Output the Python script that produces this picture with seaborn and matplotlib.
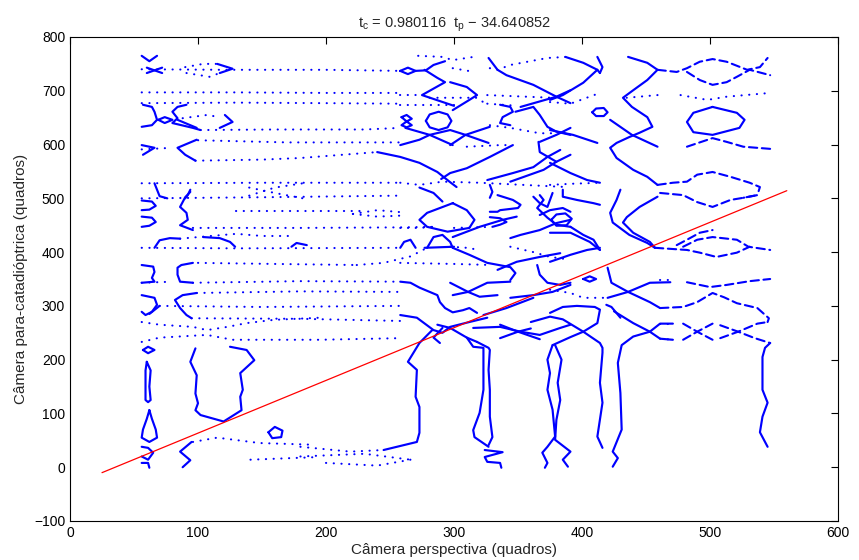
import numpy as np
import pandas as pd
import seaborn as sns
import matplotlib
matplotlib.use("Agg")
import matplotlib.pyplot as plt

# curvas tracadas a partir da figura (x = quadros perspectiva, y = quadros para-catadioptrica)

# regiao esquerda, tracos continuos
left_solid = [
    [(56, 765), (62, 755), (68, 765)],
    [(60, 743), (72, 733)],
    [(60, 733), (72, 743)],
    [(115, 750), (127, 741), (117, 733)],
    [(57, 674), (64, 670), (66, 661), (68, 646), (64, 636), (56, 633)],
    [(91, 674), (84, 670), (80, 661), (84, 649), (80, 640), (96, 631), (102, 627)],
    [(69, 646), (74, 651), (80, 646), (74, 640), (69, 646)],
    [(84, 646), (99, 631)],
    [(117, 631), (127, 642), (121, 655)],
    [(56, 599), (66, 594), (57, 581)],
    [(99, 609), (84, 594), (90, 581), (98, 570)],
    [(66, 528), (68, 516), (70, 504), (76, 500)],
    [(94, 516), (92, 506), (90, 500)],
    [(56, 496), (64, 494), (67, 486), (62, 479), (56, 478)],
    [(56, 466), (64, 464), (67, 456), (62, 449), (56, 447)],
    [(94, 512), (90, 502), (86, 484), (91, 473), (92, 460), (86, 450), (96, 441)],
    [(66, 408), (70, 422), (78, 426), (86, 425)],
    [(104, 428), (117, 426), (125, 419), (129, 410)],
    [(173, 410), (177, 417), (185, 413)],
    [(56, 376), (65, 373), (66, 363), (64, 352), (66, 345), (56, 343)],
    [(96, 380), (87, 376), (84, 371), (84, 358), (86, 345), (96, 343)],
    [(56, 320), (66, 315), (68, 302), (64, 289), (59, 283), (56, 289)],
    [(70, 300), (62, 285)],
    [(99, 324), (88, 320), (82, 311), (86, 296), (91, 283), (95, 277)],
    [(57, 218), (61, 224), (66, 218), (61, 212), (57, 218)],
    [(60, 196), (63, 180), (62, 150), (63, 125), (61, 121), (59, 125), (59, 150), (59, 180), (60, 196)],
    [(62, 106), (64, 90), (67, 70), (68, 55), (62, 47), (56, 55), (57, 70), (60, 90), (62, 106)],
    [(56, 38), (61, 36), (65, 27), (61, 14), (56, 20)],
    [(56, 8), (61, 8), (62, -1)],
    [(98, 221), (94, 196), (99, 171), (98, 137), (100, 119), (98, 106), (102, 97), (120, 85),
     (134, 106), (133, 131), (135, 144), (133, 175), (144, 199), (138, 218), (125, 224)],
    [(155, 65), (160, 75), (166, 68), (165, 56), (158, 54), (155, 65)],
    [(95, 47), (86, 29), (94, 13), (88, 0)],
    [(259, 651), (263, 655), (267, 648), (263, 643), (259, 636), (263, 632), (267, 636), (263, 643), (259, 651)],
]

# regiao esquerda, pontos esparsos
left_dotted = [
    [(90, 744), (104, 750), (115, 750)],
    [(91, 733), (109, 726), (117, 733)],
    [(56, 740), (120, 739), (200, 739), (258, 737)],
    [(56, 697), (130, 697), (200, 696), (258, 696)],
    [(56, 677), (130, 678), (200, 677), (258, 676)],
    [(88, 649), (107, 655), (117, 651)],
    [(102, 627), (160, 628), (230, 628), (258, 631)],
    [(100, 608), (170, 604), (258, 604)],
    [(56, 591), (80, 594)],
    [(98, 570), (150, 572), (180, 575), (240, 586)],
    [(56, 528), (150, 529), (258, 529)],
    [(56, 500), (150, 502), (258, 505)],
    [(140, 505), (160, 520), (182, 528)],
    [(140, 520), (160, 510), (182, 500)],
    [(130, 477), (230, 477)],
    [(221, 471), (240, 478), (260, 474)],
    [(221, 471), (240, 466), (260, 468)],
    [(96, 445), (180, 445), (258, 446), (284, 447)],
    [(86, 425), (110, 430), (130, 434), (150, 430), (175, 430)],
    [(56, 408), (130, 407), (258, 408)],
    [(224, 376), (245, 380), (266, 392), (279, 408)],
    [(100, 380), (160, 378), (224, 376)],
    [(96, 343), (180, 346), (258, 345)],
    [(56, 343), (80, 345)],
    [(99, 324), (180, 327), (258, 326)],
    [(70, 300), (150, 298), (258, 300)],
    [(95, 277), (180, 276), (258, 272)],
    [(56, 270), (70, 265), (96, 261), (107, 255), (123, 261), (138, 268), (159, 274), (195, 278)],
    [(56, 233), (70, 241), (107, 246), (127, 237), (195, 237), (258, 240)],
    [(96, 47), (115, 55), (148, 45), (188, 42)],
    [(141, 14), (195, 19)],
    [(180, 38), (219, 29), (245, 32)],
    [(180, 20), (230, 25), (266, 14)],
    [(200, 8), (240, 3), (266, 14)],
]

# regiao central, tracos continuos
mid_solid = [
    [(270, 737), (278, 738), (284, 748), (293, 755)],
    [(277, 739), (287, 724), (293, 716), (275, 692), (285, 684), (300, 672)],
    [(297, 716), (310, 707), (318, 692), (312, 683), (299, 664)],
    [(258, 737), (264, 743), (270, 737), (264, 731), (258, 737)],
    [(278, 644), (281, 656), (288, 661), (295, 656), (298, 644), (295, 632), (288, 627), (281, 632), (278, 644)],
    [(262, 631), (281, 618), (299, 599)],
    [(258, 599), (273, 609), (281, 618), (297, 627), (309, 618), (327, 603)],
    [(297, 599), (309, 618), (328, 633)],
    [(240, 586), (258, 577), (273, 566), (287, 549), (297, 530), (302, 521)],
    [(290, 536), (297, 547), (310, 556), (328, 577), (346, 599)],
    [(273, 520), (284, 510), (291, 494)],
    [(328, 525), (330, 512), (328, 501)],
    [(299, 491), (279, 473), (273, 460), (279, 447), (295, 438), (312, 445), (316, 460), (310, 478), (299, 491)],
    [(279, 408), (284, 428), (291, 432), (297, 419), (299, 408)],
    [(277, 408), (300, 410)],
    [(258, 408), (261, 419), (266, 423), (270, 408)],
    [(299, 408), (312, 395), (326, 380), (344, 372), (348, 361), (344, 348)],
    [(258, 345), (266, 343), (273, 334), (281, 326), (287, 320), (289, 307), (293, 296), (299, 288),
     (307, 292), (312, 296), (318, 287)],
    [(297, 343), (311, 326), (320, 317), (334, 320)],
    [(299, 320), (311, 326), (326, 343), (344, 345)],
    [(258, 283), (271, 278), (284, 255), (291, 250), (297, 261), (312, 270), (326, 278)],
    [(287, 265), (297, 259), (310, 241), (318, 233)],
    [(291, 259), (284, 241), (289, 231)],
    [(283, 255), (273, 231), (264, 196), (271, 181), (270, 131), (273, 112), (273, 64), (271, 47), (245, 32)],
    [(310, 241), (315, 224), (323, 222), (323, 194), (323, 144), (320, 101), (315, 69), (316, 56), (327, 38)],
    [(318, 233), (327, 222), (328, 218), (327, 181), (328, 144), (328, 94), (330, 56), (327, 41)],
    [(324, 32), (338, 28), (324, 19), (326, 10), (336, 8), (337, -1)],
    [(327, 761), (334, 739), (341, 729), (362, 711), (380, 689), (391, 677)],
    [(352, 670), (380, 689), (391, 701)],
    [(336, 674), (344, 670), (346, 661), (338, 651), (336, 640), (344, 636)],
    [(348, 661), (362, 670), (367, 655), (373, 633), (380, 624), (391, 618)],
    [(367, 605), (380, 618), (391, 631)],
    [(366, 605), (367, 586), (380, 568), (391, 581)],
    [(380, 568), (370, 553), (344, 531)],
    [(383, 590), (373, 577), (362, 558), (346, 547), (326, 534)],
    [(362, 503), (367, 491), (373, 484), (377, 510)],
    [(299, 428), (320, 447), (338, 460), (349, 466)],
    [(334, 367), (349, 382), (367, 391), (383, 398)],
    [(334, 506), (346, 497), (352, 488), (350, 482), (336, 478), (334, 475), (328, 475)],
    [(328, 465), (336, 463), (341, 456), (336, 451), (330, 447)],
    [(367, 506), (370, 497), (365, 482), (373, 464), (380, 451), (391, 447)],
    [(367, 469), (375, 478), (385, 482), (391, 475)],
    [(344, 426), (352, 432), (367, 441), (380, 454), (391, 460)],
    [(365, 376), (367, 358), (373, 343), (383, 339), (391, 343)],
    [(344, 315), (362, 320), (377, 326), (391, 339)],
    [(323, 283), (341, 296), (362, 315)],
    [(315, 259), (336, 261), (352, 252), (367, 246), (383, 259), (391, 265)],
    [(336, 265), (350, 252), (367, 238)],
    [(336, 240), (350, 252), (360, 258)],
    [(377, 227), (373, 200), (375, 175), (373, 144), (377, 107), (379, 57), (373, 38), (369, 27), (373, 8), (371, -1)],
    [(379, 227), (384, 200), (381, 157), (383, 125), (380, 88), (379, 51), (391, 29), (385, 14), (389, 1)],
]

# regiao direita, tracos continuos
right_solid = [
    [(360, 270), (375, 280), (385, 275), (401, 252), (414, 231), (416, 222), (416, 213), (414, 157),
     (416, 120), (412, 57), (416, 36)],
    [(377, 227), (391, 242), (401, 252), (412, 268), (414, 293), (410, 298), (396, 300), (385, 298), (375, 287)],
    [(453, 252), (440, 243), (431, 227), (428, 194), (430, 138), (431, 70), (424, 29), (428, 17), (424, 1)],
    [(420, 315), (436, 326), (453, 343), (469, 344)],
    [(420, 371), (423, 343), (436, 326), (453, 307), (461, 296)],
    [(430, 278), (423, 298), (419, 302)],
    [(425, 290), (440, 268), (453, 252), (461, 239), (471, 237)],
    [(453, 252), (461, 267), (471, 267)],
    [(547, 231), (543, 222), (541, 205), (541, 144), (545, 120), (541, 94), (539, 65), (545, 38)],
    [(387, 763), (401, 752), (412, 739), (414, 733)],
    [(412, 763), (416, 744), (414, 733)],
    [(412, 739), (401, 715), (385, 692), (375, 683)],
    [(408, 660), (411, 667), (417, 668), (420, 660), (417, 653), (411, 653), (408, 660)],
    [(436, 763), (451, 752), (459, 739), (451, 720), (440, 701), (432, 687), (439, 670), (451, 651),
     (455, 633), (445, 622), (437, 614), (427, 603), (422, 594), (427, 575), (440, 553), (451, 540), (459, 525)],
    [(422, 646), (439, 618), (459, 596)],
    [(375, 627), (393, 618), (412, 603)],
    [(375, 566), (391, 547), (404, 534), (414, 529)],
    [(385, 516), (385, 503), (396, 497), (409, 491), (414, 488)],
    [(376, 460), (380, 470), (387, 472), (392, 462), (388, 450), (380, 449), (376, 460)],
    [(375, 436), (391, 436), (406, 419), (414, 404)],
    [(391, 447), (401, 432), (409, 423), (414, 404)],
    [(375, 382), (391, 395), (404, 404), (414, 408)],
    [(401, 350), (406, 355), (411, 350), (406, 345), (401, 350)],
    [(430, 516), (427, 497), (422, 473), (424, 455), (437, 432), (451, 417), (457, 408)],
    [(459, 503), (445, 484), (435, 465), (432, 455), (440, 436), (453, 419), (457, 408)],
    [(502, 670), (521, 659), (527, 646), (523, 631), (502, 618), (487, 623), (482, 642), (487, 659), (502, 670)],
]

# lentes quebradas a direita
right_broken = [
    [(459, 739), (474, 735), (482, 742), (492, 754), (502, 759), (513, 754), (529, 739), (539, 744), (545, 761)],
    [(482, 735), (492, 720), (502, 711), (513, 716), (521, 726), (531, 739), (547, 729)],
    [(482, 596), (502, 612), (513, 605), (526, 596), (547, 592)],
    [(459, 525), (471, 529), (482, 531), (490, 544), (502, 549), (516, 540), (531, 529), (539, 521), (537, 506), (526, 501)],
    [(461, 510), (479, 506), (490, 493), (502, 484), (516, 497), (526, 501), (537, 506)],
    [(474, 413), (482, 423), (492, 436), (502, 441)],
    [(479, 410), (490, 423), (502, 428), (521, 423), (530, 410), (547, 404)],
    [(457, 408), (482, 404), (492, 399), (505, 391), (521, 399), (531, 410)],
    [(482, 344), (500, 335), (513, 339), (531, 346), (547, 350)],
    [(461, 296), (479, 298), (490, 307), (502, 324), (511, 316), (521, 305), (537, 296), (546, 277), (545, 270)],
    [(479, 267), (490, 252), (502, 237)],
    [(479, 237), (490, 252), (502, 267)],
    [(508, 240), (522, 252), (537, 267), (545, 270)],
    [(508, 264), (522, 252), (535, 240), (547, 231)],
]

# pontos esparsos no centro e a direita
mid_dotted = [
    [(272, 765), (291, 763), (299, 757), (318, 764)],
    [(299, 742), (316, 735)],
    [(258, 692), (273, 692)],
    [(281, 687), (318, 687), (324, 677)],
    [(258, 674), (300, 674)],
    [(328, 742), (334, 739), (344, 748), (373, 761), (388, 763)],
    [(326, 692), (377, 687)],
    [(326, 676), (350, 672)],
    [(328, 636), (344, 631), (367, 621), (380, 621)],
    [(310, 596), (336, 599), (346, 599)],
    [(258, 529), (273, 525), (291, 531), (320, 529), (388, 521)],
    [(375, 525), (391, 527), (414, 529)],
    [(258, 445), (273, 445), (284, 447)],
    [(297, 410), (310, 408), (320, 404)],
    [(344, 410), (362, 400), (375, 391), (391, 386)],
    [(258, 380), (300, 378), (330, 376)],
    [(375, 679), (391, 676), (414, 696)],
    [(459, 692), (435, 687)],
    [(375, 330), (391, 324), (401, 315), (420, 315)],
    [(300, 445), (330, 447)],
    [(477, 692), (498, 683), (513, 689), (547, 696)],
    [(461, 348), (469, 348)],
    [(461, 267), (471, 267)],
    [(461, 239), (471, 237)],
]

# reta ajustada (titulo)
fit_x = [25, 560]
fit_y = [-10.1, 514.2]

x_ticks = [0, 100, 200, 300, 400, 500, 600]
y_ticks = [-100, 0, 100, 200, 300, 400, 500, 600, 700, 800]


def to_frame(curves, start):
    rows = []
    for i, c in enumerate(curves):
        for j, (x, y) in enumerate(c):
            rows.append((start + i, j, x, y))
    return pd.DataFrame(rows, columns=["curve", "idx", "x", "y"])


solid_df = to_frame(left_solid + mid_solid + right_solid, 0)
dotted_df = to_frame(left_dotted + mid_dotted, 1000)
broken_df = to_frame(right_broken, 2000)
fit_df = pd.DataFrame({"x": fit_x, "y": fit_y})

sns.set_style("white")
plt.rcParams["font.family"] = ["Liberation Sans", "DejaVu Sans"]
plt.rcParams["mathtext.default"] = "regular"

fig = plt.figure(figsize=(8.59, 5.60), dpi=100)
ax = fig.add_axes([70 / 859, 39 / 560, 768 / 859, 484 / 560])

blue = (0, 0, 1)
sns.lineplot(data=dotted_df, x="x", y="y", units="curve", estimator=None, sort=False,
             color=blue, lw=1.5, linestyle=(0, (0.1, 3.6)), dash_capstyle="round",
             legend=False, ax=ax)
sns.lineplot(data=broken_df, x="x", y="y", units="curve", estimator=None, sort=False,
             color=blue, lw=1.5, linestyle=(0, (4.0, 2.2)), dash_capstyle="round",
             legend=False, ax=ax)
sns.lineplot(data=solid_df, x="x", y="y", units="curve", estimator=None, sort=False,
             color=blue, lw=1.55, solid_joinstyle="round", solid_capstyle="round",
             legend=False, ax=ax)
sns.lineplot(data=fit_df, x="x", y="y", sort=False, color="red", lw=0.9, legend=False, ax=ax)

ax.set_xlim(0, 600)
ax.set_ylim(-100, 800)
ax.set_xticks(x_ticks)
ax.set_yticks(y_ticks)
ax.tick_params(direction="in", top=True, right=True, length=5, width=0.8,
               labelsize=10, colors="black")
for s in ax.spines.values():
    s.set_color("black")
    s.set_linewidth(0.8)

ax.set_xlabel("Câmera perspectiva (quadros)", fontsize=11, labelpad=2)
ax.set_ylabel("Câmera para-catadióptrica (quadros)", fontsize=11, labelpad=4)
ax.set_title(r"$t_c$ = 0.980116  $t_p$ − 34.640852", fontsize=10.5, pad=7)

fig.savefig("out.png", dpi=100)
